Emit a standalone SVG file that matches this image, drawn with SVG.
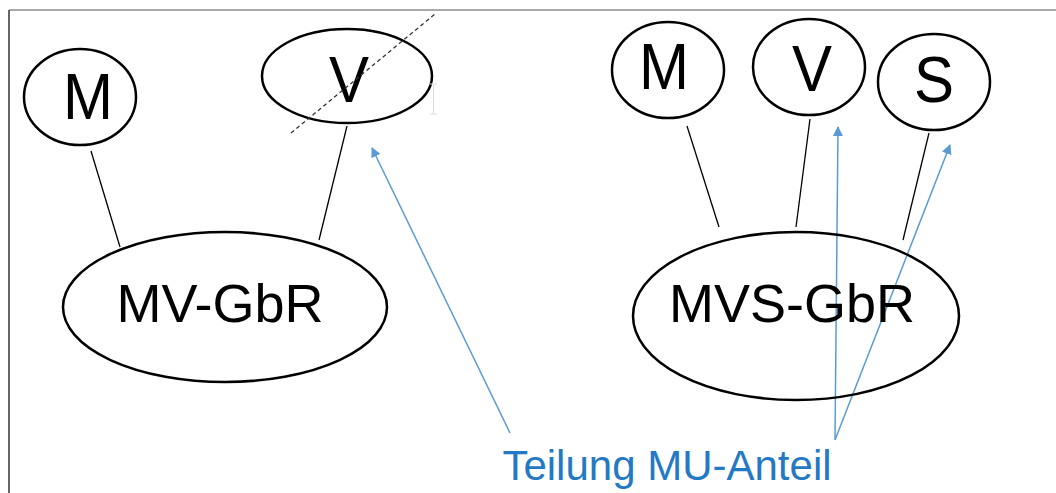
<svg xmlns="http://www.w3.org/2000/svg" width="1056" height="493" viewBox="0 0 1056 493">
<defs>
<style>
.node{fill:#fff;stroke:#000;stroke-width:2.5}
.lbl{font-family:"Liberation Sans",Arial,sans-serif;fill:#000;text-anchor:middle}
.small{font-size:60px}
.big{font-size:54px}
.link{stroke:#000;stroke-width:1.3;fill:none}
.blue{stroke:#5B9BD5;stroke-width:1.5;fill:none;marker-end:url(#ah)}
</style>
<marker id="ah" viewBox="0 0 10 10" refX="9" refY="5" markerWidth="10" markerHeight="10" markerUnits="userSpaceOnUse" orient="auto">
<path d="M0,0 L10,5 L0,10 Z" fill="#5B9BD5"/>
</marker>
</defs>
<rect width="1056" height="493" fill="#fff"/>
<g id="frame">
<line x1="9" y1="10" x2="1056" y2="10" stroke="#555" stroke-width="1.2"/>
<line x1="9" y1="10" x2="9" y2="493" stroke="#333" stroke-width="1.5"/>
</g>
<g id="connectors">
<line class="link" x1="91" y1="151" x2="120" y2="247"/>
<line class="link" x1="347" y1="126" x2="319" y2="240"/>
<line class="link" x1="687" y1="126" x2="719" y2="227"/>
<line class="link" x1="810" y1="119" x2="796" y2="227"/>
<line class="link" x1="929" y1="133" x2="903" y2="240"/>
<line class="blue" x1="510" y1="433" x2="372" y2="148"/>
<line class="blue" x1="835" y1="440" x2="838" y2="127"/>
<line class="blue" x1="835" y1="440" x2="950" y2="145"/>
</g>
<g id="node-m1">
<ellipse class="node" cx="80" cy="97" rx="56" ry="48"/>
<text class="lbl small" transform="translate(88,119) scale(1,1.08)">M</text>
</g>
<g id="node-v1">
<ellipse class="node" cx="347" cy="76" rx="85" ry="47"/>
<text class="lbl small" transform="translate(349,102) scale(1,1.08)">V</text>
<line x1="291" y1="133" x2="435" y2="14" stroke="#333" stroke-width="1.3" stroke-dasharray="4 3"/>
<path d="M430,84 H437 M433.5,84 V114 M430,114 H437" stroke="#ddd" stroke-width="1" fill="none"/>
</g>
<g id="node-mvgbr">
<ellipse class="node" cx="225" cy="307" rx="162" ry="75"/>
<text class="lbl big" x="220" y="322">MV-GbR</text>
</g>
<g id="node-m2">
<ellipse class="node" cx="668" cy="70" rx="56" ry="48"/>
<text class="lbl small" transform="translate(664,89) scale(1,1.08)">M</text>
</g>
<g id="node-v2">
<ellipse class="node" cx="809" cy="67" rx="56" ry="48"/>
<text class="lbl small" transform="translate(812,91) scale(1,1.08)">V</text>
</g>
<g id="node-s">
<ellipse class="node" cx="934" cy="82" rx="56" ry="48"/>
<text class="lbl small" transform="translate(934,102) scale(1,1.08)">S</text>
</g>
<g id="node-mvsgbr">
<ellipse class="node" cx="796" cy="316" rx="163" ry="84" style="fill:none"/>
<text class="lbl big" x="792" y="322">MVS-GbR</text>
</g>
<g id="label-teilung">
<text x="667" y="480" font-family="Liberation Sans, Arial, sans-serif" font-size="42" fill="#2479C4" text-anchor="middle">Teilung MU-Anteil</text>
</g>
</svg>
